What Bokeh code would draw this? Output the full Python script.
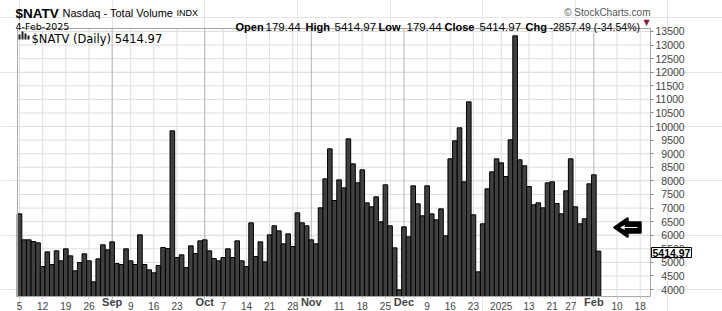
import pandas as pd
from bokeh.plotting import figure
from bokeh.models import (Range1d, LinearAxis, FixedTicker, Label, BoxAnnotation)
from bokeh.embed import file_html
from bokeh.resources import INLINE

# ---------------- data ----------------
holidays = ["2024-09-02", "2024-11-28", "2024-12-25", "2025-01-01",
            "2025-01-09", "2025-01-20", "2025-02-17"]
slots = [d.strftime("%Y-%m-%d") for d in pd.bdate_range("2024-08-05", "2025-02-21")]
slots = [d for d in slots if d not in holidays]
slot_index = {d: i for i, d in enumerate(slots)}

volume = [
    6786, 5829, 5829, 5768, 5718, 4847, 5387, 4921, 5424, 5056,
    5498, 5240, 4688, 4994, 5313, 5056, 4283, 5129, 5645, 5461,
    5755, 4957, 4921, 5498, 5056, 4921, 6013, 4921, 4724, 4614,
    4884, 5547, 5510, 9842, 5179, 5277, 4810, 5608, 5326, 5792,
    5829, 5424, 5142, 5056, 5179, 5498, 5179, 5792, 5056, 4847,
    6455, 5215, 5755, 5019, 6013, 6345, 6160, 5682, 6050, 5583,
    6823, 6455, 6345, 5829, 5682, 7007, 8075, 9179, 7277, 8038,
    7743, 9548, 8627, 7928, 8406, 7191, 7044, 7412, 6492, 7854,
    6345, 5534, 3988, 6308, 5939, 7817, 7154, 6713, 7817, 6786,
    6566, 6971, 5977, 8812, 9474, 9953, 7965, 10910, 6750, 4651,
    6419, 7707, 8333, 8812, 8664, 8161, 9511, 13340, 8775, 8554,
    7793, 7118, 7192, 7008, 7928, 7965, 7167, 6787, 7634, 8812,
    7045, 6419, 6603, 7891, 8223, 5414.97,
]
bar_dates = slots[:len(volume)]

tick_dates = ["2024-08-05", "2024-08-12", "2024-08-19", "2024-08-26", "2024-09-03",
              "2024-09-09", "2024-09-16", "2024-09-23", "2024-10-01", "2024-10-07",
              "2024-10-14", "2024-10-21", "2024-10-28", "2024-11-01", "2024-11-11",
              "2024-11-18", "2024-11-25", "2024-12-02", "2024-12-09", "2024-12-16",
              "2024-12-23", "2025-01-02", "2025-01-13", "2025-01-21", "2025-01-27",
              "2025-02-03", "2025-02-10", "2025-02-18"]
tick_labels = ["5", "12", "19", "26", "Sep", "9", "16", "23", "Oct", "7", "14", "21",
               "28", "Nov", "11", "18", "25", "Dec", "9", "16", "23", "2025", "13",
               "21", "27", "Feb", "10", "18"]
y_ticks = list(range(4000, 13501, 500))

symbol = "$NATV"
title_name = "Nasdaq - Total Volume"
exchange = "INDX"
date_text = "4-Feb-2025"
last_close = "5414.97"
ohlc = [("Open", "179.44"), ("High", "5414.97"), ("Low", "179.44"),
        ("Close", "5414.97"), ("Chg", "-2857.49 (-34.54%)")]

# ---------------- geometry ----------------
W, H = 722, 311
FL, FR, FT, FB = 17, 650, 28, 296          # plot box in pixels
X0, X1 = -0.432, 136.23                    # data at box edges
Y0, Y1 = 3743, 13610
KX = (X1 - X0) / (FR - FL)
KY = (Y1 - Y0) / (FB - FT)


def to_x(px):
    return X0 + (px - FL) * KX


def to_y(py):
    return Y1 - (py - FT) * KY


p = figure(width=W, height=H,
           x_range=Range1d(to_x(0), to_x(W)), y_range=Range1d(to_y(H), to_y(0)),
           output_backend="svg", toolbar_location=None,
           x_axis_location=None, y_axis_location=None,
           min_border_left=0, min_border_right=0, min_border_top=0, min_border_bottom=0)
p.outline_line_color = None
p.background_fill_color = "white"
p.border_fill_color = "white"

tick_pos = [slot_index[d] for d in tick_dates]
is_bold = [not t.isdigit() for t in tick_labels]
week_pos = [t for t, b in zip(tick_pos, is_bold) if not b]
month_pos = [t for t, b in zip(tick_pos, is_bold) if b]
labels_by_pos = dict(zip(tick_pos, tick_labels))

# grid lines inside the plot box
p.segment(x0=[X0] * len(y_ticks), x1=[X1] * len(y_ticks), y0=y_ticks, y1=y_ticks,
          line_color="#dedede", line_width=1)
p.segment(x0=week_pos, x1=week_pos, y0=[Y0] * len(week_pos), y1=[Y1] * len(week_pos),
          line_color="#dedede", line_width=1)
p.segment(x0=month_pos, x1=month_pos, y0=[Y0] * len(month_pos), y1=[Y1] * len(month_pos),
          line_color="#b4b4b4", line_width=1)

# bars
x = [slot_index[d] for d in bar_dates]
p.vbar(x=x, top=volume, bottom=Y0, width=1.0, fill_color="#404040",
       line_color="black", line_width=1)

# plot box border
p.quad(left=[X0], right=[X1], bottom=[Y0], top=[Y1], fill_color=None,
       line_color="#a8a8a8", line_width=1)

# axes drawn at the box edges
ax_reg = LinearAxis(ticker=FixedTicker(ticks=week_pos, minor_ticks=list(range(len(slots)))),
                    fixed_location=Y0,
                    major_label_overrides={v: labels_by_pos[v] for v in week_pos},
                    major_label_text_font="Liberation Sans", major_label_text_font_size="10px",
                    major_label_standoff=3, axis_line_color=None,
                    major_tick_out=2, major_tick_in=0, minor_tick_out=1, minor_tick_in=0,
                    major_tick_line_color="#aaaaaa", minor_tick_line_color="#cccccc")
p.add_layout(ax_reg, "below")
ax_bold = LinearAxis(ticker=FixedTicker(ticks=month_pos), fixed_location=Y0,
                     major_label_overrides={v: labels_by_pos[v] for v in month_pos},
                     major_label_text_font="Liberation Sans", major_label_text_font_size="11px",
                     major_label_text_font_style="bold",
                     major_label_standoff=-3, axis_line_color=None,
                     major_tick_out=2, major_tick_in=0, minor_tick_line_color=None,
                     major_tick_line_color="#aaaaaa")
p.add_layout(ax_bold, "below")
yaxis = LinearAxis(ticker=FixedTicker(ticks=y_ticks), fixed_location=X1,
                   major_label_overrides={v: (str(v) if v >= 10000 else "\u2007" + str(v))
                                          for v in y_ticks},
                   major_label_text_font="Liberation Sans", major_label_text_font_size="10.5px",
                   major_label_standoff=2, axis_line_color=None, major_tick_out=3,
                   major_tick_in=0, minor_tick_line_color=None,
                   major_tick_line_color="#888888")
p.add_layout(yaxis, "right")


def lbl(text, px, py, size, bold=False, font="Liberation Sans", color="black",
        align="left", baseline="alphabetic", **kw):
    p.add_layout(Label(x=to_x(px), y=to_y(py), text=text, text_font=font,
                       text_font_size=f"{size}px",
                       text_font_style="bold" if bold else "normal",
                       text_color=color, text_align=align, text_baseline=baseline, **kw))


# header
lbl(symbol, 15, 13, 13.5, bold=True)
lbl(title_name, 62, 12, 11)
lbl(exchange, 176, 12, 9)
lbl(date_text, 15, 26, 9.5, font="DejaVu Sans")
lbl("\u00a9 StockCharts.com", 650, 12, 10, color="#555555", align="right")
ohlc_px = [(235, 265), (305, 334), (378, 406), (444, 479), (525, 549)]
for (name, val), (pn, pv) in zip(ohlc, ohlc_px):
    lbl(name, pn, 26, 11, bold=True)
    lbl(val, pv, 26, 10.5 if name == "Chg" else 11.5)
lbl("\u25bc", 646, 22, 8, font="DejaVu Sans", color="#8b1a3a", align="center",
    baseline="middle")

# legend row
lbl(f"{symbol} (Daily) {last_close}", 31, 38, 11.5, font="DejaVu Sans")
for l, t in [(18, 34), (21, 31), (24, 33), (27, 35)]:
    p.add_layout(BoxAnnotation(left=to_x(l), right=to_x(l + 2), top=to_y(t),
                               bottom=to_y(39), fill_color="#222222", fill_alpha=1,
                               line_color=None))

# last value tag on the axis
lbl(last_close, 651, 252, 10.5, bold=True, baseline="middle",
    border_line_color="black", background_fill_color="white", padding=1)

# arrow
ax_px = [614, 627, 627, 640, 640, 627, 627]
ay_px = [227, 218, 222, 222, 232, 232, 236]
p.patch([to_x(v) for v in ax_px], [to_y(v) for v in ay_px], fill_color="black",
        line_color="black", line_width=2.5, line_join="round")
p.line([to_x(623), to_x(637)], [to_y(227), to_y(227)], line_color="white", line_width=1)
p.patch([to_x(v) for v in [620, 624, 624]], [to_y(v) for v in [227, 225, 229]],
        fill_color="white", line_color="white", line_width=0.5)

open("out.html", "w").write(file_html(p, INLINE))
